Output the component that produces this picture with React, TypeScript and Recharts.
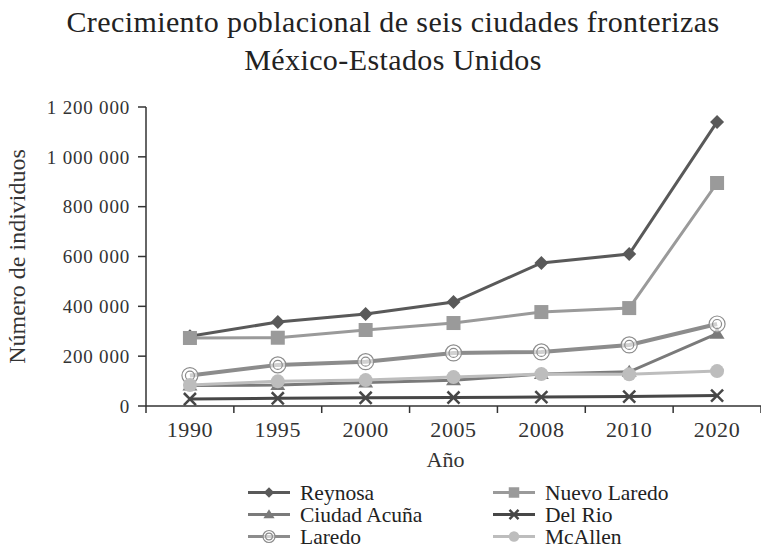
import React from "react";
import { LineChart, Line, XAxis, YAxis } from "recharts";

const YEARS = ["1990", "1995", "2000", "2005", "2008", "2010", "2020"];
const REYNOSA = [280000, 337000, 369000, 417000, 574000, 610000, 1140000];
const NUEVO_LAREDO = [273000, 274000, 305000, 333000, 377000, 393000, 895000];
const CIUDAD_ACUNA = [82000, 84000, 94000, 103000, 128000, 137000, 290000];
const DEL_RIO = [28000, 31000, 33000, 34000, 36000, 38000, 42000];
const LAREDO = [122000, 165000, 178000, 213000, 217000, 245000, 329000];
const MCALLEN = [84000, 99000, 104000, 116000, 128000, 127000, 140000];
const Y_TICKS = [0, 200000, 400000, 600000, 800000, 1000000, 1200000];

type Shape = "diamond" | "square" | "triangle" | "cross" | "rings" | "circle";

const SERIES: { key: string; name: string; values: number[]; color: string; width: number; shape: Shape }[] = [
  { key: "reynosa", name: "Reynosa", values: REYNOSA, color: "#595959", width: 3, shape: "diamond" },
  { key: "nuevoLaredo", name: "Nuevo Laredo", values: NUEVO_LAREDO, color: "#9a9a9a", width: 3, shape: "square" },
  { key: "acuna", name: "Ciudad Acuña", values: CIUDAD_ACUNA, color: "#7a7a7a", width: 3, shape: "triangle" },
  { key: "delRio", name: "Del Rio", values: DEL_RIO, color: "#474747", width: 3, shape: "cross" },
  { key: "laredo", name: "Laredo", values: LAREDO, color: "#8c8c8c", width: 4, shape: "rings" },
  { key: "mcallen", name: "McAllen", values: MCALLEN, color: "#bdbdbd", width: 3, shape: "circle" },
];

const LEGEND_ORDER = ["reynosa", "nuevoLaredo", "acuna", "delRio", "laredo", "mcallen"];

const data = YEARS.map((year, i) => {
  const row: Record<string, number | string> = { pos: i + 0.5, year };
  SERIES.forEach(s => { row[s.key] = s.values[i]; });
  return row;
});

// boundaries get a tick mark, half steps get the year label
const X_TICKS = Array.from({ length: YEARS.length * 2 + 1 }, (_, i) => i / 2);

const FONT = "'Liberation Serif', 'Times New Roman', serif";
const TEXT = "#333";

const fmt = (v: number) => String(v).replace(/\B(?=(\d{3})+(?!\d))/g, " ");

function marker(shape: Shape, color: string, cx: number, cy: number, k?: string, sc = 1) {
  const d = 7 * sc;
  switch (shape) {
    case "diamond":
      return <path key={k} d={`M${cx},${cy - d}L${cx + d},${cy}L${cx},${cy + d}L${cx - d},${cy}Z`} fill={color} />;
    case "square":
      return <rect key={k} x={cx - d} y={cy - d} width={2 * d} height={2 * d} fill={color} />;
    case "triangle":
      return <path key={k} d={`M${cx},${cy - d}L${cx + d * 1.07},${cy + d * 0.7}L${cx - d * 1.07},${cy + d * 0.7}Z`} fill={color} />;
    case "cross":
      return (
        <g key={k} stroke={color} strokeWidth={2.5}>
          <line x1={cx - d * 0.86} y1={cy - d * 0.86} x2={cx + d * 0.86} y2={cy + d * 0.86} />
          <line x1={cx - d * 0.86} y1={cy + d * 0.86} x2={cx + d * 0.86} y2={cy - d * 0.86} />
        </g>
      );
    case "rings":
      return (
        <g key={k} fill="none" stroke={color} strokeWidth={1.2}>
          <circle cx={cx} cy={cy} r={8 * sc} fill="#fff" fillOpacity={0.6} />
          <circle cx={cx} cy={cy} r={4.5 * sc} />
        </g>
      );
    default:
      return <circle key={k} cx={cx} cy={cy} r={d} fill={color} />;
  }
}

const dotFor = (shape: Shape, color: string) => (props: any) =>
  marker(shape, color, props.cx, props.cy, `${shape}-${props.index}`);

const XTick = (props: any) => {
  const { x, y, payload } = props;
  const v = payload.value as number;
  if (Number.isInteger(v)) {
    return <line x1={x} y1={y - 6} x2={x} y2={y + 1} stroke={TEXT} strokeWidth={1.5} />;
  }
  return (
    <text x={x} y={y + 25} textAnchor="middle" fill={TEXT} fontSize={22} fontFamily={FONT} letterSpacing={0.6}>
      {YEARS[Math.floor(v)]}
    </text>
  );
};

export default function App() {
  return (
    <div style={{ position: "absolute", left: 0, top: 0, width: 761, height: 549, background: "#fff", fontFamily: FONT }}>
      <div style={{ position: "absolute", left: 0, top: 3, width: 786, textAlign: "center", fontSize: 30, lineHeight: "38px", color: "#222", letterSpacing: 0.4 }}>
        Crecimiento poblacional de seis ciudades fronterizas
        <br />
        México-Estados Unidos
      </div>
      <div style={{ position: "absolute", left: 0, top: 0 }}>
        <LineChart width={761} height={549} data={data} margin={{ top: 107, right: 0, bottom: 103, left: 0 }}>
          <XAxis
            dataKey="pos"
            type="number"
            domain={[0, YEARS.length]}
            ticks={X_TICKS}
            interval={0}
            tick={<XTick />}
            tickLine={false}
            tickSize={6}
            tickMargin={0}
            height={40}
            axisLine={{ stroke: TEXT, strokeWidth: 1.5 }}
            label={{ value: "Año", position: "insideBottom", offset: -21, dx: -8, fill: TEXT, fontSize: 22, fontFamily: FONT }}
          />
          <YAxis
            width={146}
            domain={[0, 1200000]}
            ticks={Y_TICKS}
            interval={0}
            tickFormatter={fmt}
            tick={{ fill: TEXT, fontSize: 19, fontFamily: FONT, letterSpacing: 0.8 }}
            tickSize={8}
            tickMargin={8}
            tickLine={{ stroke: TEXT, strokeWidth: 1.5 }}
            axisLine={{ stroke: TEXT, strokeWidth: 1.5 }}
            label={{ value: "Número de individuos", angle: -90, position: "insideLeft", offset: 16, fill: TEXT, fontSize: 24, fontFamily: FONT, style: { textAnchor: "middle" } }}
          />
          {SERIES.map(s => (
            <Line
              key={s.key}
              dataKey={s.key}
              name={s.name}
              stroke={s.color}
              strokeWidth={s.width}
              dot={dotFor(s.shape, s.color)}
              activeDot={false}
              isAnimationActive={false}
            />
          ))}
        </LineChart>
      </div>
      <svg style={{ position: "absolute", left: 0, top: 0 }} width={761} height={549}>
        {LEGEND_ORDER.map((k, i) => {
          const s = SERIES.find(x => x.key === k)!;
          const col = i % 2;
          const row = Math.floor(i / 2);
          const x0 = 248 + col * 245;
          const base = 500 + row * 22;
          const cy = base - 7.5;
          return (
            <g key={k}>
              <line x1={x0} y1={cy} x2={x0 + 42} y2={cy} stroke={s.color} strokeWidth={3} />
              {marker(s.shape, s.color, x0 + 21, cy, undefined, 0.75)}
              <text x={x0 + 52} y={base} fontSize={21.5} fontFamily={FONT} fill="#222">{s.name}</text>
            </g>
          );
        })}
      </svg>
    </div>
  );
}
